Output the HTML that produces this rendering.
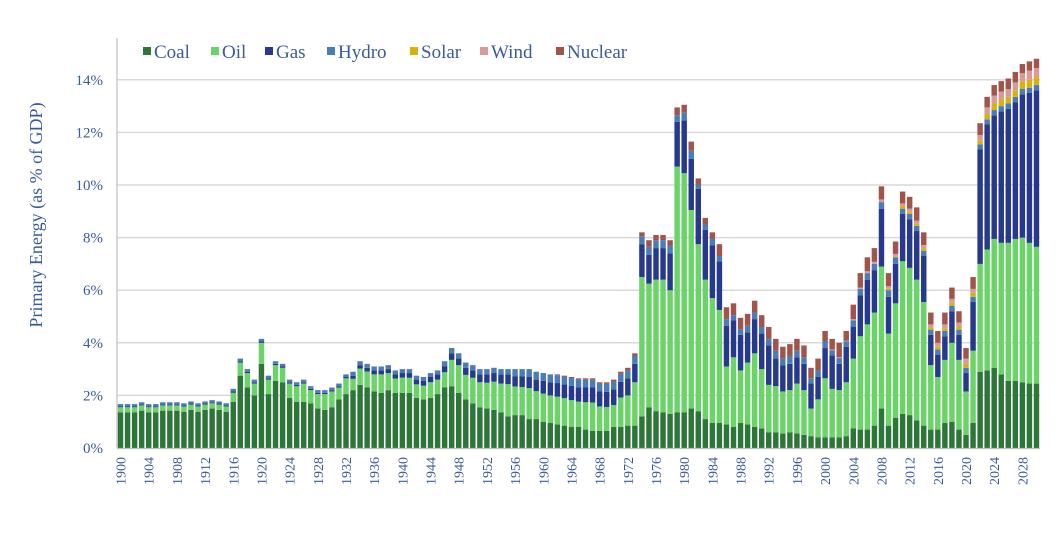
<!DOCTYPE html>
<html><head><meta charset="utf-8">
<style>
html,body{margin:0;padding:0;background:#fff;}
body{width:1062px;height:546px;overflow:hidden;font-family:"Liberation Serif",serif;}
svg text{font-family:"Liberation Serif",serif;fill:#3b5a9a;}
</style></head>
<body>
<svg id="chart" width="1062" height="546" viewBox="0 0 1062 546" xmlns="http://www.w3.org/2000/svg">
<g id="grid"></g>
<g id="bars"></g>
<g id="axes"></g>
<text transform="translate(42,215) rotate(-90)" text-anchor="middle" font-size="18">Primary Energy (as % of GDP)</text>
<g id="legend"></g>
</svg>
<script>
const startYear = 1900;
const coal = [
1.35,1.35,1.35,1.42,1.35,1.35,1.42,1.42,1.42,1.38,1.45,1.38,1.45,1.5,1.45,1.38,
1.75,2.75,2.3,2.0,3.2,2.05,2.55,2.5,1.9,1.75,1.75,1.7,1.5,1.45,1.55,1.85,2.05,
2.2,2.4,2.3,2.15,2.1,2.2,2.1,2.1,2.1,1.9,1.85,1.9,2.05,2.3,2.35,2.1,1.85,1.7,1.55,1.5,1.45,1.35,1.2,1.25,1.25,1.1,1.1,1.0,0.95,0.9,0.85,0.8,0.8,0.7,0.65,0.65,0.65,0.8,0.8,0.85,0.85,
1.2,1.55,1.4,1.35,1.3,1.35,1.35,1.5,1.4,1.1,0.95,0.95,0.9,0.8,0.95,0.9,0.8,0.75,0.6,0.6,0.55,0.6,0.55,0.5,0.45,0.4,0.4,
0.4,0.4,0.45,0.75,0.7,0.7,0.85,1.5,0.85,1.15,1.3,1.25,1.05,0.85,0.7,0.7,0.95,1.0,0.7,0.5,0.95,2.9,2.95,3.05,2.8,2.55,2.55,2.5,2.45,2.45];
const oil = [
0.2,0.2,0.2,0.2,0.2,0.2,0.2,0.2,0.2,0.2,0.2,0.2,0.2,0.2,0.2,0.2,
0.35,0.5,0.55,0.45,0.8,0.55,0.6,0.55,0.55,0.6,0.7,0.5,0.55,0.6,0.6,0.45,0.6,
0.43,0.62,0.61,0.65,0.7,0.65,0.54,0.58,0.57,0.52,0.52,0.6,0.55,0.58,1.0,1.05,0.93,0.97,0.95,0.98,1.07,1.1,1.23,1.09,1.07,1.18,1.06,1.07,1.05,1.05,1.05,1.02,0.96,1.04,1.08,0.93,0.91,0.83,1.12,1.15,1.65,
5.3,4.7,5.0,5.05,4.7,9.35,9.1,7.55,6.35,5.3,4.75,4.3,2.2,2.65,2.0,2.35,2.8,2.25,1.8,1.75,1.6,1.6,1.9,1.7,1.05,1.45,2.25,
1.85,1.8,2.05,2.65,3.55,4.0,4.3,5.4,3.5,4.35,5.8,5.6,5.35,4.7,2.45,2.0,2.4,3.0,2.65,1.65,2.75,4.1,4.6,4.9,5.0,5.25,5.4,5.5,5.35,5.2];
const gas = [
0.04,0.04,0.04,0.04,0.04,0.04,0.04,0.04,0.04,0.04,0.04,0.04,0.04,0.04,0.04,0.04,
0.05,0.05,0.05,0.05,0.05,0.05,0.05,0.05,0.05,0.05,0.05,0.05,0.05,0.05,0.05,0.05,0.05,
0.12,0.13,0.14,0.15,0.15,0.15,0.16,0.17,0.18,0.18,0.18,0.2,0.2,0.22,0.25,0.25,0.27,0.28,0.3,0.32,0.33,0.35,0.37,0.38,0.4,0.42,0.44,0.48,0.5,0.52,0.52,0.54,0.55,0.56,0.57,0.57,0.58,0.6,0.6,0.65,0.7,
1.25,1.1,1.2,1.2,1.4,1.7,2.0,1.95,2.1,1.9,2.0,1.85,1.55,1.4,1.35,1.15,1.3,1.35,1.5,1.05,1.0,1.0,1.0,1.0,0.95,0.85,1.15,
1.27,1.0,1.35,1.2,1.55,1.7,1.6,2.2,1.4,1.5,1.8,1.85,1.85,1.75,1.15,0.85,0.9,1.2,0.95,0.7,1.85,4.35,4.75,4.7,5.0,5.1,5.2,5.45,5.7,5.95];
const hydro = [
0.08,0.08,0.08,0.08,0.08,0.08,0.08,0.08,0.08,0.08,0.08,0.08,0.08,0.08,0.08,0.08,
0.1,0.1,0.1,0.1,0.1,0.1,0.1,0.1,0.1,0.1,0.1,0.1,0.1,0.1,0.1,0.1,0.1,
0.15,0.15,0.15,0.15,0.15,0.15,0.15,0.15,0.15,0.15,0.15,0.15,0.15,
0.2,0.2,0.2,0.2,0.2,0.2,0.2,0.2,0.2,0.2,
0.28,0.28,
0.3,0.3,0.3,0.3,0.3,0.3,0.3,0.3,0.3,0.3,0.3,0.3,0.3,0.3,0.3,0.3,
0.3,0.3,0.3,0.3,0.3,0.25,0.3,0.3,0.15,0.2,0.25,0.2,0.25,0.2,0.2,0.25,0.25,0.25,0.25,0.3,0.25,0.3,0.25,0.25,0.2,0.25,0.25,
0.2,0.22,0.2,0.25,0.25,0.25,0.25,0.25,0.25,0.25,0.2,0.2,0.2,0.2,0.2,0.2,0.2,0.2,0.2,0.2,0.2,0.2,0.2,0.2,0.2,0.2,0.2,0.2,0.2,0.2];
const solar = [
0,0,0,0,0,0,0,0,0,0, 0,0,0,0,0,0,0,0,0,0, 0,0,0,0,0,0,0,0,0,0, 0,0,0,0,0,0,0,0,0,0,
0,0,0,0,0,0,0,0,0,0, 0,0,0,0,0,0,0,0,0,0, 0,0,0,0,0,0,0,0,0,0, 0,0,0,0,0,0,0,0,0,0,
0,0,0,0,0,0,0,0,0,0, 0,0,0,0,0,0,0,0,0,0, 0,0,0,0,0,0,0,0,0,
0.05,0.03,0.1,0.08,0.08,0.1,0.08,0.12,0.1,0.12,0.12,0.15,0.15,0.15,0.2,0.25,0.25,0.25,0.25,0.3,0.3,0.3];
const wind = [
0,0,0,0,0,0,0,0,0,0, 0,0,0,0,0,0,0,0,0,0, 0,0,0,0,0,0,0,0,0,0, 0,0,0,0,0,0,0,0,0,0,
0,0,0,0,0,0,0,0,0,0, 0,0,0,0,0,0,0,0,0,0, 0,0,0,0,0,0,0,0,0,0, 0,0,0,0,0,0,0,0,0,0,
0,0,0,0,0,0,0,0,0,0, 0,0,0,0,0,0,0,0,0,0, 0,
0.03,0.03,0.03,0.05,0.05,0.07,0.08,0.1,0.1,0.1,0.1,0.12,0.12,0.12,0.12,0.13,0.15,0.15,0.15,0.2,0.15,0.2,0.25,0.3,0.3,0.3,0.3,0.3,0.35,0.35];
const nuclear = [
0,0,0,0,0,0,0,0,0,0, 0,0,0,0,0,0,0,0,0,0, 0,0,0,0,0,0,0,0,0,0, 0,0,0,0,0,0,0,0,0,0,
0,0,0,0,0,0,0,0,0,0, 0,0,0,0,0,0,0,0,0,0, 0,0,
0.03,0.03,0.04,0.04,0.05,0.05,0.05,0.06,0.07,0.08,0.1,0.1,
0.15,0.25,0.2,0.2,0.2,0.3,0.3,0.35,0.25,0.25,0.25,0.45,0.45,0.45,0.45,0.45,0.45,0.45,0.45,0.45,0.45,0.45,0.45,0.45,0.4,0.45,0.4,
0.4,0.55,0.37,0.55,0.55,0.53,0.52,0.5,0.5,0.47,0.45,0.45,0.5,0.48,0.45,0.45,0.45,0.43,0.43,0.4,0.45,0.45,0.4,0.4,0.4,0.4,0.4,0.35,0.35,0.35];
const seriesNames = ["Coal","Oil","Gas","Hydro","Solar","Wind","Nuclear"];
const yTicks = [0,2,4,6,8,10,12,14];

const NS = "http://www.w3.org/2000/svg";
const series = [coal,oil,gas,hydro,solar,wind,nuclear];
const colors = ["#2d7538","#6ad468","#26398c","#4a7db8","#d8b20c","#d99a9a","#a0544a"];
const plotL = 117, plotR = 1040, plotB = 448, pxPerPct = 26.3;
const n = coal.length;
const band = (plotR - plotL) / n;
function xPos(i){ return plotL + i*band; }
function yPos(v){ return plotB - v*pxPerPct; }
function mk(tag, attrs, parent){ const e=document.createElementNS(NS,tag); for(const k in attrs) e.setAttribute(k,attrs[k]); parent.appendChild(e); return e; }

const grid = document.getElementById('grid');
const axes = document.getElementById('axes');
yTicks.forEach(t=>{
  if(t>0){
    const l = mk('line',{x1:plotL,x2:plotR,y1:yPos(t),y2:yPos(t),stroke:'#d9d9d9','stroke-width':1.5},grid);
    
    
  }
  const tx = mk('text',{x:103,y:yPos(t)+5,'text-anchor':'end','font-size':15},axes);
  tx.textContent = t+'%';
  
  
});
const ya = mk('line',{x1:plotL,x2:plotL,y1:38,y2:plotB,stroke:'#bfbfbf','stroke-width':1.2},axes);


const xa = mk('line',{x1:plotL,x2:plotR,y1:plotB+0.5,y2:plotB+0.5,stroke:'#bfbfbf','stroke-width':1.2},axes);



const barsG = document.getElementById('bars');
const bw = band - 1.6;
for(let i=0;i<n;i++){
  let cum = 0;
  for(let s=0;s<series.length;s++){
    const v = series[s][i];
    if(v<=0) continue;
    const r = mk('rect',{x:xPos(i)+0.8,y:yPos(cum+v),width:bw,height:v*pxPerPct,fill:colors[s]},barsG);
    
    
    cum += v;
  }
  const yr = startYear+i;
  if(yr%4===0){
    const cx = xPos(i)+band/2+5;
    const t = mk('text',{x:cx,y:457,'text-anchor':'end','font-size':14,transform:'rotate(-90 '+cx+' 457)'},axes);
    t.textContent = yr;
    
    
  }
}

const leg = document.getElementById('legend');
const legX = [143,211,265,327,410,480,556];
seriesNames.forEach((nm,s)=>{
  const g = mk('g',{},leg);
  
  
  mk('rect',{x:legX[s],y:47,width:8,height:8,fill:colors[s]},g);
  const t = mk('text',{x:legX[s]+11,y:58,'font-size':19},g);
  t.textContent = nm;
});
</script>
</body></html>
